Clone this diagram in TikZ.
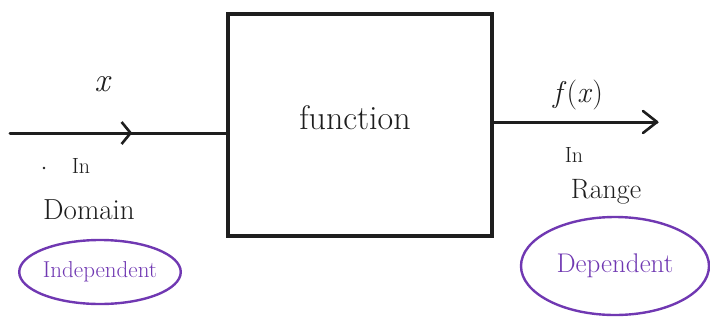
\documentclass[tikz,border=0pt]{standalone}
\usepackage{fontspec}
\usetikzlibrary{arrows.meta,decorations.markings,shapes.geometric}
\definecolor{ink}{RGB}{30,30,30}
\definecolor{pen}{RGB}{112,56,178}
\tikzset{
  line/.style={draw=ink, line width=3pt, line cap=round, line join=round},
  midarrow/.style={postaction={decorate, decoration={markings,
      mark=at position #1 with {\arrow[ink, line width=2.6pt]{Straight Barb[length=9pt,width=22pt]}}}}},
  lbl/.style={text=ink, inner sep=1pt},
  ring/.style={ellipse, draw=pen, line width=2.4pt, text=pen, inner sep=0pt}
}
\begin{document}
\begin{tikzpicture}[x=1pt,y=-1pt]
\useasboundingbox (0,0) rectangle (710,325);
\node[draw=ink, line width=3.2pt, minimum width=264pt, minimum height=222pt, inner sep=0pt] (fn) at (360,125) {};
\node[lbl, font=\fontsize{34}{38}\selectfont] (fnlbl) at (355,118) {function};
\coordinate (src) at (10,133);
\coordinate (dst) at (657,122);
\draw[line, midarrow=0.565] (src) -- (src -| fn.west);
\draw[line] (dst -| fn.east) -- (dst) ;
\draw[ink, line width=2.6pt, line cap=round, line join=round] ([xshift=-14pt,yshift=-11pt]dst) -- (dst) -- ([xshift=-14pt,yshift=11pt]dst);
\node[lbl, font=\fontsize{34}{38}\selectfont\itshape] (xl) at (102,84) {x};
\node[lbl, font=\fontsize{22}{26}\selectfont] (inl) at (81,166) {In};
\node[lbl, font=\fontsize{29}{34}\selectfont] (dom) at (89,210) {Domain};
\fill[ink] (44,168) circle (1.4pt);
\node[ring, minimum width=158pt, minimum height=64pt, font=\fontsize{23}{26}\selectfont] (ind) at (100,272) {Independent};
\node[lbl, font=\fontsize{30}{34}\selectfont] (fx) at (578,95) {\textit{f}(\textit{x})};
\node[lbl, font=\fontsize{22}{26}\selectfont] (inr) at (574,155) {In};
\node[lbl, font=\fontsize{28}{32}\selectfont] (rng) at (606,192) {Range};
\node[ring, minimum width=188pt, minimum height=98pt, font=\fontsize{27}{30}\selectfont] (dep) at (615,266) {Dependent};
\end{tikzpicture}
\end{document}
